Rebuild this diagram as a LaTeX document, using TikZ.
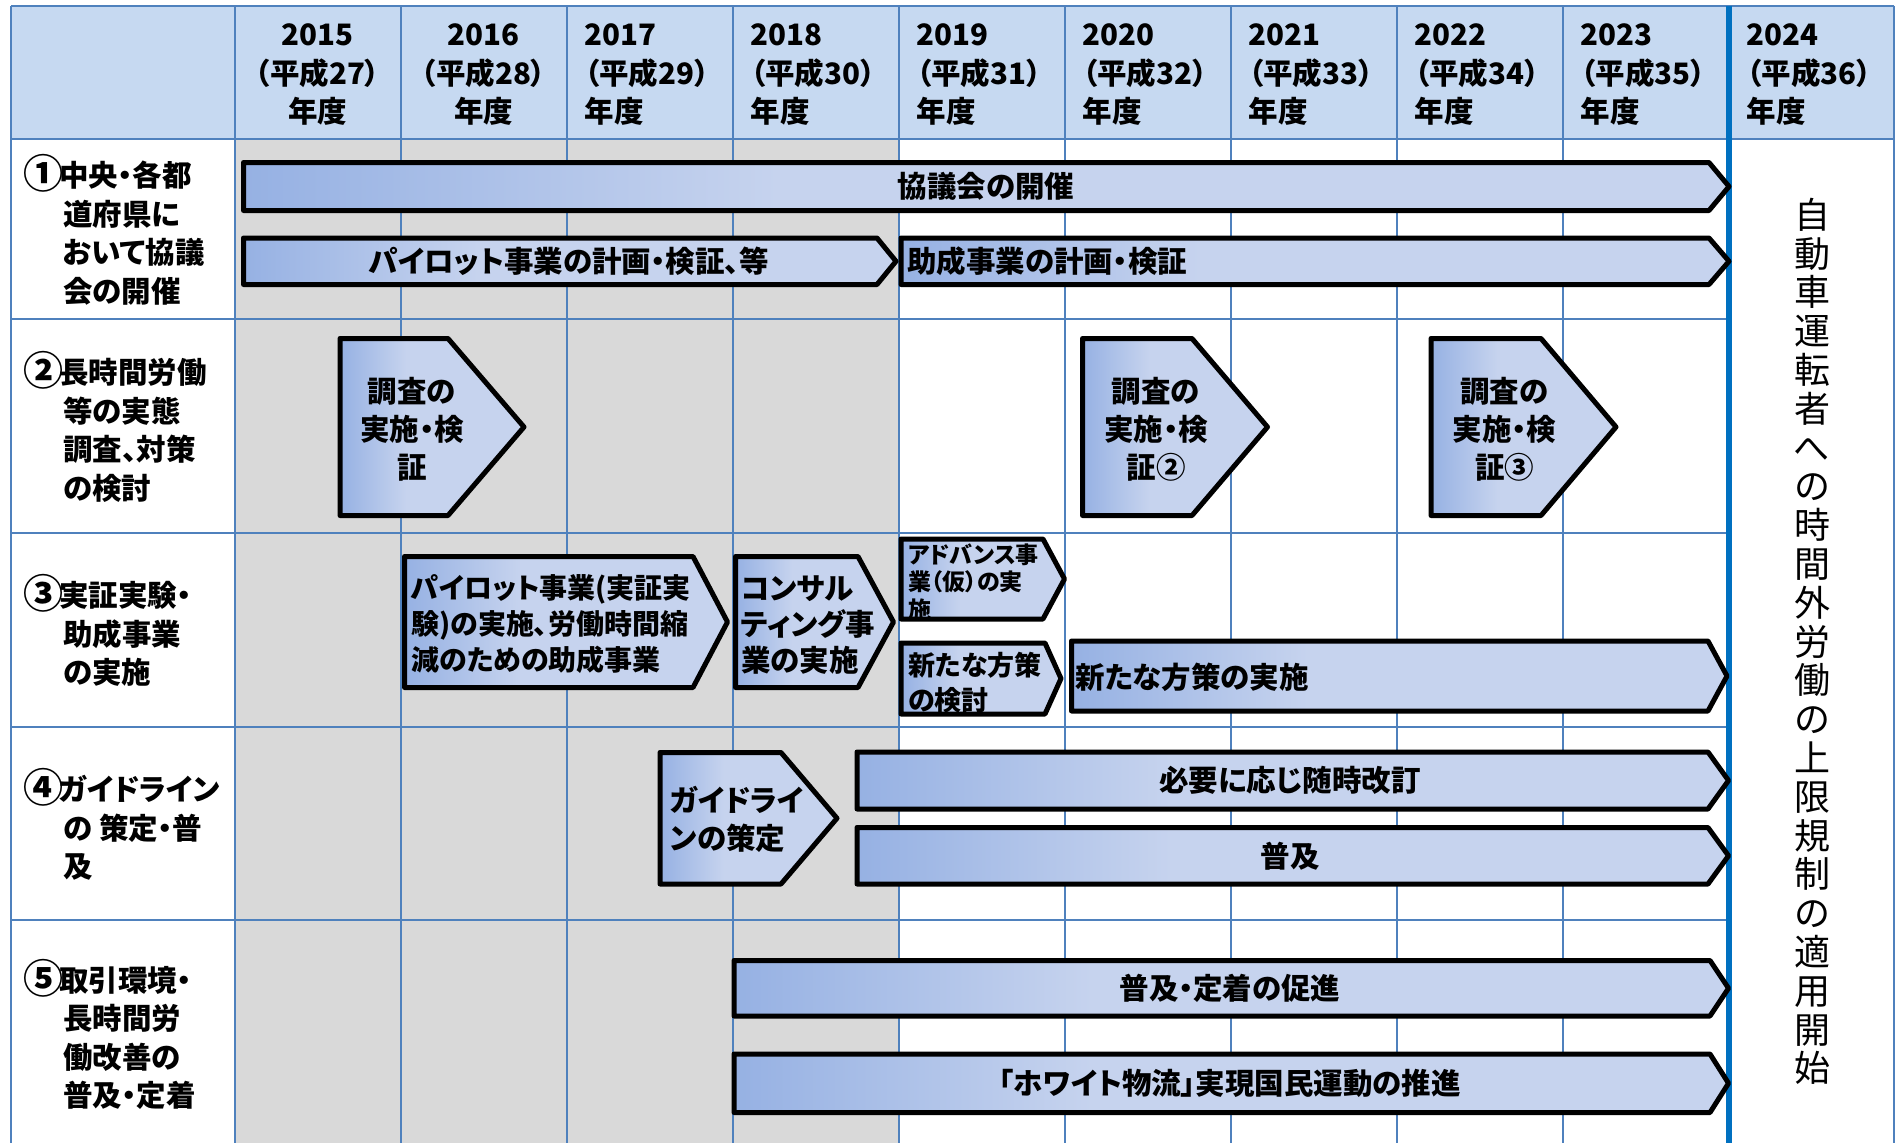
\documentclass[tikz,border=0pt]{standalone}
\usepackage{fontspec}
\setmainfont{Noto Sans CJK JP}[RawFeature=+palt]
\definecolor{gridblue}{RGB}{79,129,189}
\definecolor{headblue}{RGB}{198,217,241}
\definecolor{limitblue}{RGB}{0,112,192}
\definecolor{pastgray}{RGB}{217,217,217}
\definecolor{bardark}{RGB}{150,177,227}
\definecolor{barlight}{RGB}{198,211,238}
\pgfdeclarehorizontalshading{barshade}{100bp}{color(0bp)=(bardark); color(25bp)=(bardark); color(43bp)=(barlight); color(100bp)=(barlight)}
\newcommand{\pentabar}[5]{\shadedraw[bar] (#1,#4) -- (#2,#4) -- (#3,{(#4+#5)/2}) -- (#2,#5) -- (#1,#5) -- cycle;}
\newcommand{\labnum}[1]{\makebox[36pt][l]{\raisebox{-2pt}{\fontsize{40}{38.5}\selectfont #1}}}
\newcommand{\labind}{\hspace*{40pt}}
\begin{document}
\begin{tikzpicture}[x=1pt,y=-1pt,
  bar/.style={shading=barshade,draw=black,line width=5pt,line join=round},
  txt/.style={font=\bfseries\fontsize{29.5}{38}\selectfont,inner sep=0pt},
  hd/.style={font=\bfseries\fontsize{29.5}{38.5}\selectfont,inner sep=0pt},
  lab/.style={font=\bfseries\fontsize{29.5}{38.5}\selectfont,inner sep=0pt,align=left,anchor=west},
  grid/.style={draw=gridblue,line width=2pt}]
\useasboundingbox (0,0) rectangle (1900,1143);
\fill[headblue] (11,5.5) rectangle (1894,138.5);
\fill[pastgray] (234.5,138.5) rectangle (898.5,1143);

% grid
\draw[grid] (11,5.5) -- (1894,5.5);
\draw[grid] (11,138.5) -- (1894,138.5);
\draw[grid] (11,319) -- (1728.5,319);
\draw[grid] (11,533) -- (1728.5,533);
\draw[grid] (11,727) -- (1728.5,727);
\draw[grid] (11,920) -- (1728.5,920);
\draw[grid] (11,5.5) -- (11,1143);
\draw[grid] (234.5,5.5) -- (234.5,1143);
\draw[grid] (400.5,5.5) -- (400.5,1143);
\draw[grid] (566.5,5.5) -- (566.5,1143);
\draw[grid] (732.5,5.5) -- (732.5,1143);
\draw[grid] (898.5,5.5) -- (898.5,1143);
\draw[grid] (1064.5,5.5) -- (1064.5,1143);
\draw[grid] (1230.5,5.5) -- (1230.5,1143);
\draw[grid] (1396.5,5.5) -- (1396.5,1143);
\draw[grid] (1562.5,5.5) -- (1562.5,1143);
\draw[grid] (1894,5.5) -- (1894,1143);
\draw[limitblue,line width=6.5pt] (1729,5.5) -- (1729,1143);

% years
\node[hd,align=center] (y2015) at (317.5,75) {2015\\（平成27）\\年度};
\node[hd,align=center] (y2016) at (483.5,75) {2016\\（平成28）\\年度};
\node[hd,align=left,anchor=west] (y2017) at (584.5,75) {2017\\（平成29）\\年度};
\node[hd,align=left,anchor=west] (y2018) at (750.5,75) {2018\\（平成30）\\年度};
\node[hd,align=left,anchor=west] (y2019) at (916.5,75) {2019\\（平成31）\\年度};
\node[hd,align=left,anchor=west] (y2020) at (1082.5,75) {2020\\（平成32）\\年度};
\node[hd,align=left,anchor=west] (y2021) at (1248.5,75) {2021\\（平成33）\\年度};
\node[hd,align=left,anchor=west] (y2022) at (1414.5,75) {2022\\（平成34）\\年度};
\node[hd,align=left,anchor=west] (y2023) at (1580.5,75) {2023\\（平成35）\\年度};
\node[hd,align=left,anchor=west] (y2024) at (1746.5,75) {2024\\（平成36）\\年度};

% row labels
\node[lab] (lab1) at (23,230) {\labnum{①}中央・各都\\\labind 道府県に\\\labind おいて協議\\\labind 会の開催};
\node[lab] (lab2) at (23,427) {\labnum{②}長時間労働\\\labind 等の実態\\\labind 調査、対策\\\labind の検討};
\node[lab] (lab3) at (23,630.5) {\labnum{③}実証実験・\\\labind 助成事業\\\labind の実施};
\node[lab] (lab4) at (23,824.5) {\labnum{④}ガイドライン\\\labind の 策定・普\\\labind 及};
\node[lab] (lab5) at (23,1034.5) {\labnum{⑤}取引環境・\\\labind 長時間労\\\labind 働改善の\\\labind 普及・定着};

% row 1
\pentabar{243.5}{1709}{1729}{162.5}{210.5}
\node[txt] (kyogi) at (986,186.5) {協議会の開催};
\pentabar{243.5}{877}{896}{238}{284.5}
\node[txt] (pilotplan) at (569,261) {パイロット事業の計画・検証、等};
\pentabar{901}{1709}{1729}{238}{284.5}
\node[txt,anchor=west] (joseiplan) at (907,261) {助成事業の計画・検証};

% row 2
\pentabar{340}{448}{524}{338.5}{515.5}
\node[txt,align=center] (chosa1) at (412,429) {調査の\\実施・検\\証};
\pentabar{1082.5}{1192}{1267.5}{338.5}{515.5}
\node[txt,align=center] (chosa2) at (1156,429) {調査の\\実施・検\\証②};
\pentabar{1431}{1541}{1616}{338.5}{515.5}
\node[txt,align=center] (chosa3) at (1504.5,429) {調査の\\実施・検\\証③};

% row 3
\pentabar{404.5}{693}{727.5}{556.5}{687.5}
\node[txt,align=left,anchor=west,font=\bfseries\fontsize{28}{36}\selectfont] (pilotdo) at (411,624) {パイロット事業(実証実\\験)の実施、労働時間縮\\減のための助成事業};
\pentabar{735.5}{858}{893.5}{556.5}{687.5}
\node[txt,align=left,anchor=west,font=\bfseries\fontsize{29.5}{36}\selectfont] (consul) at (741,625) {コンサル\\ティング事\\業の実施};
\pentabar{901}{1043}{1064.5}{539}{619}
\node[txt,align=left,anchor=west,font=\bfseries\fontsize{23}{27.5}\selectfont] (advance) at (908,582) {アドバンス事\\業（仮）の実\\施};
\pentabar{901}{1045}{1061}{643}{714}
\node[txt,align=left,anchor=west,font=\bfseries\fontsize{27}{35}\selectfont] (newstudy) at (908,682.5) {新たな方策\\の検討};
\pentabar{1071.5}{1708}{1727}{641}{711}
\node[txt,anchor=west] (newdo) at (1075,677) {新たな方策の実施};

% row 4
\pentabar{660}{781}{837}{752.5}{884}
\node[txt,align=left,anchor=west] (guide) at (670,819) {ガイドライ\\ンの策定};
\pentabar{857}{1708}{1728.5}{752}{809}
\node[txt] (revise) at (1290,780.5) {必要に応じ随時改訂};
\pentabar{857}{1708}{1728.5}{827.5}{884}
\node[txt] (spread) at (1290,856) {普及};

% row 5
\pentabar{734}{1710}{1728.5}{960.5}{1016}
\node[txt] (settle) at (1230,988) {普及・定着の促進};
\pentabar{734}{1710}{1728.5}{1054}{1112.5}
\node[txt] (white) at (1230,1083) {「ホワイト物流」実現国民運動の推進};

% 2024
\node[font=\fontsize{36}{38.8}\selectfont,align=center,inner sep=0pt] (limit) at (1812,641.5) {自\\動\\車\\運\\転\\者\\へ\\の\\時\\間\\外\\労\\働\\の\\上\\限\\規\\制\\の\\適\\用\\開\\始};
\end{tikzpicture}
\end{document}
